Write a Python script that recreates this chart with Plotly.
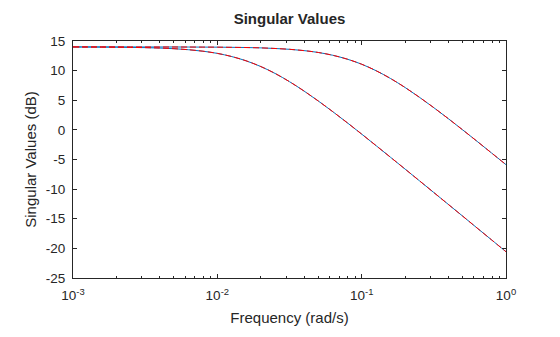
import plotly.graph_objects as go

# Frequencies (rad/s)
freq = [0.001, 0.00126, 0.00158, 0.002, 0.00251, 0.00316, 0.00398, 0.00501, 0.00631, 0.00794,
        0.01, 0.0126, 0.0158, 0.02, 0.0251, 0.0316, 0.0398, 0.0501, 0.0631, 0.0794,
        0.1, 0.126, 0.158, 0.2, 0.251, 0.316, 0.398, 0.501, 0.631, 0.794, 1.0]

# Singular value 1 (dB)
sv1 = [14.00, 14.00, 14.00, 14.00, 13.99, 13.99, 13.99, 13.99, 13.98, 13.97,
       13.96, 13.93, 13.90, 13.84, 13.74, 13.60, 13.38, 13.06, 12.59, 11.94,
       11.08, 9.98, 8.69, 7.15, 5.51, 3.75, 1.90, 0.00, -1.94, -3.90, -5.87]

# Singular value 2 (dB)
sv2 = [13.99, 13.98, 13.97, 13.95, 13.92, 13.88, 13.81, 13.70, 13.53, 13.28,
       12.91, 12.37, 11.66, 10.69, 9.53, 8.14, 6.57, 4.87, 3.07, 1.21,
       -0.71, -2.67, -4.60, -6.62, -8.58, -10.57, -12.57, -14.56, -16.57, -18.56, -20.57]

x_tickvals = [0.001, 0.01, 0.1, 1]
x_ticktext = ["10<sup>-3</sup>", "10<sup>-2</sup>", "10<sup>-1</sup>", "10<sup>0</sup>"]
y_tickvals = [15, 10, 5, 0, -5, -10, -15, -20, -25]
y_ticktext = ["15", "10", "5", "0", "-5", "-10", "-15", "-20", "-25"]

minor_vals = [m * d for d in (0.001, 0.01, 0.1) for m in range(2, 10)]

blue = "#0072BD"
red = "#FF0000"
text_col = "#262626"
font_family = "Liberation Sans, Arial, sans-serif"

fig = go.Figure()
for sv in (sv1, sv2):
    fig.add_trace(go.Scatter(x=freq, y=sv, mode="lines", line=dict(color=blue, width=1, shape="spline"),
                             showlegend=False, hoverinfo="skip"))
for sv in (sv1, sv2):
    fig.add_trace(go.Scatter(x=freq, y=sv, mode="lines",
                             line=dict(color=red, width=1, dash="6px,3px", shape="spline"),
                             showlegend=False, hoverinfo="skip"))

fig.update_layout(
    width=560, height=337,
    margin=dict(l=73, r=54, t=41, b=59),
    paper_bgcolor="white", plot_bgcolor="white",
    font=dict(family=font_family, size=13, color=text_col),
    title=dict(text="<b>Singular Values</b>", x=0.5, xref="paper", xanchor="center",
               y=1 - 19 / 337, yref="container", yanchor="middle",
               font=dict(size=15, color=text_col)),
)
fig.update_xaxes(
    type="log", range=[-3, 0],
    tickmode="array", tickvals=x_tickvals, ticktext=x_ticktext,
    ticks="inside", ticklen=4, tickcolor=text_col, tickwidth=1,
    ticklabelstandoff=5,
    minor=dict(tickmode="array", tickvals=minor_vals, ticks="inside", ticklen=2,
               tickcolor=text_col, showgrid=False),
    showline=True, linecolor=text_col, linewidth=1, mirror="ticks",
    showgrid=False, zeroline=False,
    tickfont=dict(size=13.5, color=text_col),
    title=dict(text="Frequency (rad/s)", font=dict(size=15, color=text_col), standoff=10),
)
fig.update_yaxes(
    range=[-25, 15],
    tickmode="array", tickvals=y_tickvals, ticktext=y_ticktext,
    ticks="inside", ticklen=4, tickcolor=text_col, tickwidth=1,
    ticklabelstandoff=4,
    showline=True, linecolor=text_col, linewidth=1, mirror="ticks",
    showgrid=False, zeroline=False,
    tickfont=dict(size=13.5, color=text_col),
    title=dict(text="Singular Values (dB)", font=dict(size=15, color=text_col), standoff=5),
)

fig.write_html("out.html")
